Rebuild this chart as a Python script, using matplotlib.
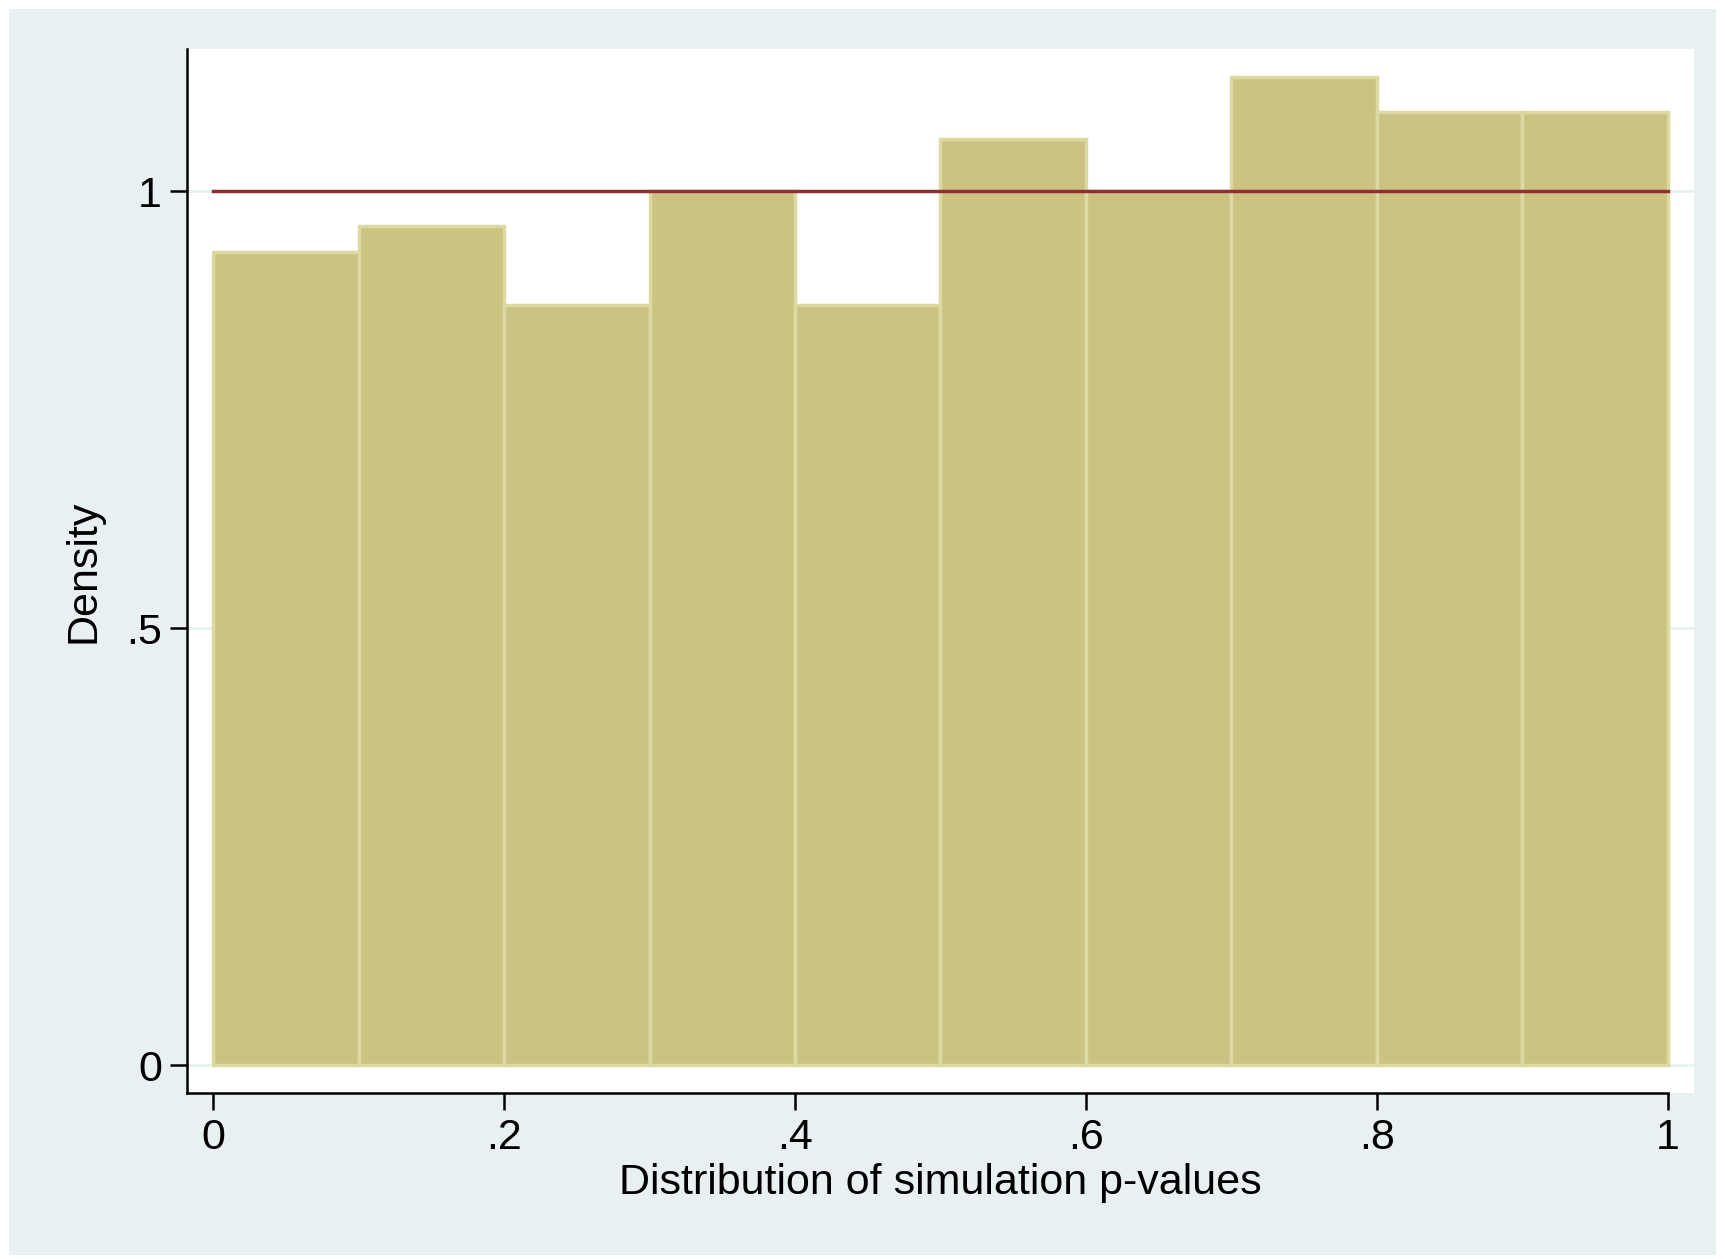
import matplotlib.pyplot as plt

bin_edges = [0, .1, .2, .3, .4, .5, .6, .7, .8, .9, 1.0]
density = [0.93, 0.96, 0.87, 1.0, 0.87, 1.06, 1.0, 1.13, 1.09, 1.09]
yticks = [0, 0.5, 1]
ytick_labels = ["0", ".5", "1"]
xticks = [0, .2, .4, .6, .8, 1]
xtick_labels = ["0", ".2", ".4", ".6", ".8", "1"]

fig = plt.figure(figsize=(17.25, 12.59), dpi=100)
fig.patch.set_facecolor("white")

# light outer region behind the plot
bg = fig.add_axes([0.005, 0.003, 0.99, 0.99], zorder=-1)
bg.set_facecolor("#e8f0f2")
bg.set_xticks([])
bg.set_yticks([])
for s in bg.spines.values():
    s.set_visible(False)

ax = fig.add_axes([0.1084, 0.132, 0.8736, 0.8287])
ax.set_facecolor("white")
for y in yticks:
    ax.axhline(y, color="#e8f0f2", lw=2, zorder=0)

ax.bar(bin_edges[:-1], density, width=0.1, align="edge", color="#cbc382",
       edgecolor="#ddd9a3", linewidth=2.5, zorder=2)
ax.plot([0, 1], [1, 1], color="#8f2f35", lw=2.5, zorder=3)

ax.set_xlim(-0.018, 1.018)
ax.set_ylim(-0.0315, 1.162)
ax.spines["top"].set_visible(False)
ax.spines["right"].set_visible(False)
ax.spines["left"].set_linewidth(1.8)
ax.spines["bottom"].set_linewidth(1.8)
ax.spines["bottom"].set_bounds(-0.018, 1.0)

ax.set_xticks(xticks)
ax.set_xticklabels(xtick_labels)
ax.set_yticks(yticks)
ax.set_yticklabels(ytick_labels)
ax.tick_params(labelsize=31, length=12, width=1.8, pad=6)
ax.set_xlabel("Distribution of simulation p-values", fontsize=31, labelpad=4)
ax.set_ylabel("Density", fontsize=31, labelpad=16)

for lab in ax.get_xticklabels() + ax.get_yticklabels():
    lab.set_fontfamily("Liberation Sans")
ax.xaxis.label.set_fontfamily("Liberation Sans")
ax.yaxis.label.set_fontfamily("Liberation Sans")

fig.savefig("out.png", dpi=100)
